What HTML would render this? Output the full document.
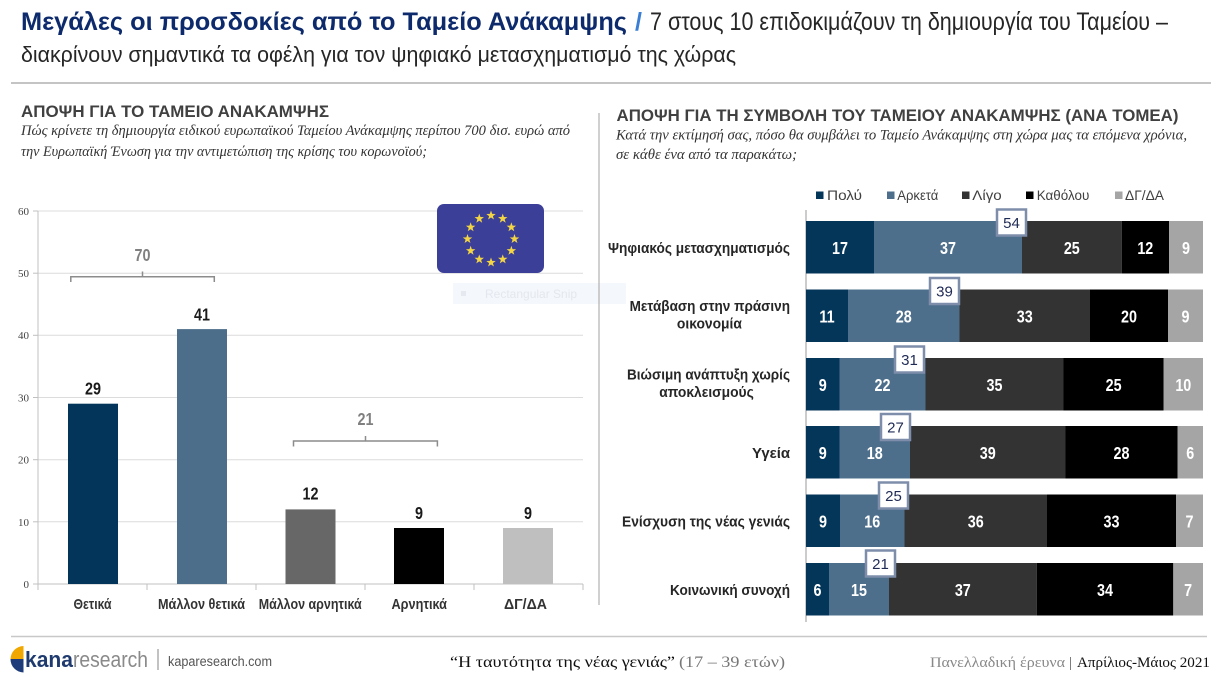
<!DOCTYPE html>
<html><head><meta charset="utf-8"><style>
html,body{margin:0;padding:0;background:#fff;}
svg{display:block;}
text{font-family:"Liberation Sans","DejaVu Sans",sans-serif;}
.sf{font-family:"Liberation Serif","DejaVu Serif",serif;}
</style></head><body>
<svg width="1218" height="677" viewBox="0 0 1218 677" xmlns="http://www.w3.org/2000/svg">
<defs>
<polygon id="st" points="0,-5 1.18,-1.61 4.75,-1.55 1.9,0.61 2.94,4.05 0,2 -2.94,4.05 -1.9,0.61 -4.75,-1.55 -1.18,-1.61" fill="#f3d544"/>
</defs>
<rect width="1218" height="677" fill="#fff"/>

<!-- Title -->
<text x="21" y="30" font-size="25" font-weight="bold" fill="#0d2b6c" textLength="606" lengthAdjust="spacingAndGlyphs">Μεγάλες οι προσδοκίες από το Ταμείο Ανάκαμψης</text>
<text x="635" y="30" font-size="25" font-weight="bold" fill="#3a7fd5">/</text>
<text x="650" y="30" font-size="25" fill="#262626" textLength="518" lengthAdjust="spacingAndGlyphs">7 στους 10 επιδοκιμάζουν τη δημιουργία του Ταμείου –</text>
<text x="21" y="62" font-size="22" fill="#262626" textLength="715" lengthAdjust="spacingAndGlyphs">διακρίνουν σημαντικά τα οφέλη για τον ψηφιακό μετασχηματισμό της χώρας</text>
<line x1="11" y1="83" x2="1211" y2="83" stroke="#c4c4c4" stroke-width="2"/>

<!-- Left headings -->
<text x="21" y="117" font-size="17" font-weight="bold" fill="#404040" textLength="308" lengthAdjust="spacingAndGlyphs">ΑΠΟΨΗ ΓΙΑ ΤΟ ΤΑΜΕΙΟ ΑΝΑΚΑΜΨΗΣ</text>
<text class="sf" x="21" y="135" font-size="14.5" font-style="italic" fill="#333" textLength="549" lengthAdjust="spacingAndGlyphs">Πώς κρίνετε τη δημιουργία ειδικού ευρωπαϊκού Ταμείου Ανάκαμψης περίπου 700 δισ. ευρώ από</text>
<text class="sf" x="21" y="156" font-size="14.5" font-style="italic" fill="#333" textLength="406" lengthAdjust="spacingAndGlyphs">την Ευρωπαϊκή Ένωση για την αντιμετώπιση της κρίσης του κορωνοϊού;</text>

<!-- Right headings -->
<text x="616.5" y="121" font-size="17" font-weight="bold" fill="#404040" textLength="562" lengthAdjust="spacingAndGlyphs">ΑΠΟΨΗ ΓΙΑ ΤΗ ΣΥΜΒΟΛΗ ΤΟΥ ΤΑΜΕΙΟΥ ΑΝΑΚΑΜΨΗΣ (ΑΝΑ ΤΟΜΕΑ)</text>
<text class="sf" x="616" y="139.5" font-size="14.5" font-style="italic" fill="#333" textLength="571" lengthAdjust="spacingAndGlyphs">Κατά την εκτίμησή σας, πόσο θα συμβάλει το Ταμείο Ανάκαμψης στη χώρα μας τα επόμενα χρόνια,</text>
<text class="sf" x="616" y="159" font-size="14.5" font-style="italic" fill="#333" textLength="181" lengthAdjust="spacingAndGlyphs">σε κάθε ένα από τα παρακάτω;</text>

<!-- separator -->
<line x1="599" y1="113" x2="599" y2="605" stroke="#b0b0b0" stroke-width="1.2"/>

<!-- Left chart grid -->
<g stroke="#dcdcdc" stroke-width="1">
<line x1="38" y1="211" x2="583" y2="211"/>
<line x1="38" y1="273.2" x2="583" y2="273.2"/>
<line x1="38" y1="335.3" x2="583" y2="335.3"/>
<line x1="38" y1="397.5" x2="583" y2="397.5"/>
<line x1="38" y1="459.7" x2="583" y2="459.7"/>
<line x1="38" y1="521.8" x2="583" y2="521.8"/>
</g>
<g stroke="#c0c0c0" stroke-width="1">
<line x1="38" y1="211" x2="38" y2="584"/>
<line x1="33" y1="584" x2="583" y2="584"/>
<line x1="33" y1="211" x2="38" y2="211"/>
<line x1="33" y1="273.2" x2="38" y2="273.2"/>
<line x1="33" y1="335.3" x2="38" y2="335.3"/>
<line x1="33" y1="397.5" x2="38" y2="397.5"/>
<line x1="33" y1="459.7" x2="38" y2="459.7"/>
<line x1="33" y1="521.8" x2="38" y2="521.8"/>
<line x1="38" y1="584" x2="38" y2="590"/>
<line x1="147" y1="584" x2="147" y2="590"/>
<line x1="256" y1="584" x2="256" y2="590"/>
<line x1="365" y1="584" x2="365" y2="590"/>
<line x1="474" y1="584" x2="474" y2="590"/>
<line x1="583" y1="584" x2="583" y2="590"/>
</g>
<g class="sf" font-size="11" fill="#444" text-anchor="end">
<text class="sf" x="29" y="215">60</text>
<text class="sf" x="29" y="277">50</text>
<text class="sf" x="29" y="339">40</text>
<text class="sf" x="29" y="401.5">30</text>
<text class="sf" x="29" y="463.5">20</text>
<text class="sf" x="29" y="526">10</text>
<text class="sf" x="29" y="588">0</text>
</g>

<!-- Left bars -->
<rect x="68" y="403.7" width="50" height="180.3" fill="#03355a"/>
<rect x="177" y="329.1" width="50" height="254.9" fill="#4d6e8b"/>
<rect x="285.5" y="509.4" width="50" height="74.6" fill="#676767"/>
<rect x="394" y="528" width="50" height="56" fill="#000"/>
<rect x="503" y="528" width="50" height="56" fill="#bfbfbf"/>

<g font-size="17.5" font-weight="bold" fill="#1a1a1a" text-anchor="middle">
<text transform="translate(93,394.5) scale(0.82,1)">29</text>
<text transform="translate(202,320.5) scale(0.82,1)">41</text>
<text transform="translate(310.5,499.5) scale(0.82,1)">12</text>
<text transform="translate(419,519) scale(0.82,1)">9</text>
<text transform="translate(528,519) scale(0.82,1)">9</text>
</g>

<g font-size="15" font-weight="bold" fill="#333">
<text x="73.5" y="609" textLength="38" lengthAdjust="spacingAndGlyphs">Θετικά</text>
<text x="158" y="609" textLength="87" lengthAdjust="spacingAndGlyphs">Μάλλον θετικά</text>
<text x="258.7" y="609" textLength="103" lengthAdjust="spacingAndGlyphs">Μάλλον αρνητικά</text>
<text x="391.5" y="609" textLength="55.5" lengthAdjust="spacingAndGlyphs">Αρνητικά</text>
<text x="504" y="609" textLength="43" lengthAdjust="spacingAndGlyphs">ΔΓ/ΔΑ</text>
</g>

<!-- Brackets -->
<g stroke="#8c8c8c" stroke-width="1.5" fill="none">
<path d="M70.8,282 V276.7 H214.3 V282 M142.5,276.7 V271.5"/>
<path d="M293.5,446.5 V441 H437.4 V446.5 M365.5,441 V436"/>
</g>
<g font-size="17.5" font-weight="bold" fill="#808080" text-anchor="middle">
<text transform="translate(142.5,261) scale(0.82,1)">70</text>
<text transform="translate(365.5,425) scale(0.82,1)">21</text>
</g>

<!-- EU flag -->
<rect x="437" y="204" width="107" height="69" rx="7" fill="#3b3f98"/>
<use href="#st" x="491" y="215.5"/>
<use href="#st" x="502.75" y="218.65"/>
<use href="#st" x="511.35" y="227.25"/>
<use href="#st" x="514.5" y="239"/>
<use href="#st" x="511.35" y="250.75"/>
<use href="#st" x="502.75" y="259.35"/>
<use href="#st" x="491" y="262.5"/>
<use href="#st" x="479.25" y="259.35"/>
<use href="#st" x="470.65" y="250.75"/>
<use href="#st" x="467.5" y="239"/>
<use href="#st" x="470.65" y="227.25"/>
<use href="#st" x="479.25" y="218.65"/>

<!-- snip overlay -->
<rect x="453" y="283" width="173" height="21" fill="#f4f7fb"/>
<rect x="461" y="291" width="5" height="5" fill="#e6eaf0"/>
<text x="485" y="298" font-size="12" fill="#e4e8ee">Rectangular Snip</text>
<line x1="599" y1="283" x2="599" y2="304" stroke="#b0b0b0" stroke-width="1.2"/>

<!-- Legend -->
<rect x="816" y="191.5" width="7.5" height="7.5" fill="#04365a"/>
<rect x="887" y="191.5" width="7.5" height="7.5" fill="#4e6f8c"/>
<rect x="962" y="191.5" width="7.5" height="7.5" fill="#333"/>
<rect x="1026" y="191.5" width="7.5" height="7.5" fill="#000"/>
<rect x="1115" y="191.5" width="7.5" height="7.5" fill="#a5a5a5"/>
<g font-size="14" fill="#404040">
<text x="827" y="200" textLength="35" lengthAdjust="spacingAndGlyphs">Πολύ</text>
<text x="897.3" y="200" textLength="41" lengthAdjust="spacingAndGlyphs">Αρκετά</text>
<text x="972.3" y="200" textLength="29.4" lengthAdjust="spacingAndGlyphs">Λίγο</text>
<text x="1036.7" y="200" textLength="52.6" lengthAdjust="spacingAndGlyphs">Καθόλου</text>
<text x="1125" y="200" textLength="39" lengthAdjust="spacingAndGlyphs">ΔΓ/ΔΑ</text>
</g>

<!-- Right chart axis -->
<line x1="806" y1="210" x2="806" y2="622" stroke="#9a9a9a" stroke-width="1"/>

<!-- Row 1 -->
<rect x="806" y="221" width="68" height="52.5" fill="#04365a"/>
<rect x="874" y="221" width="148" height="52.5" fill="#4e6f8c"/>
<rect x="1022" y="221" width="99.7" height="52.5" fill="#333"/>
<rect x="1121.7" y="221" width="47.3" height="52.5" fill="#000"/>
<rect x="1169" y="221" width="34" height="52.5" fill="#a5a5a5"/>
<!-- Row 2 -->
<rect x="806" y="289.5" width="42" height="52.5" fill="#04365a"/>
<rect x="848" y="289.5" width="111.5" height="52.5" fill="#4e6f8c"/>
<rect x="959.5" y="289.5" width="130.5" height="52.5" fill="#333"/>
<rect x="1090" y="289.5" width="78" height="52.5" fill="#000"/>
<rect x="1168" y="289.5" width="35" height="52.5" fill="#a5a5a5"/>
<!-- Row 3 -->
<rect x="806" y="358" width="33.5" height="52.5" fill="#04365a"/>
<rect x="839.5" y="358" width="86" height="52.5" fill="#4e6f8c"/>
<rect x="925.5" y="358" width="138" height="52.5" fill="#333"/>
<rect x="1063.5" y="358" width="100.2" height="52.5" fill="#000"/>
<rect x="1163.7" y="358" width="39.3" height="52.5" fill="#a5a5a5"/>
<!-- Row 4 -->
<rect x="806" y="426" width="33.5" height="52.5" fill="#04365a"/>
<rect x="839.5" y="426" width="70.5" height="52.5" fill="#4e6f8c"/>
<rect x="910" y="426" width="155.5" height="52.5" fill="#333"/>
<rect x="1065.5" y="426" width="112" height="52.5" fill="#000"/>
<rect x="1177.5" y="426" width="25.5" height="52.5" fill="#a5a5a5"/>
<!-- Row 5 -->
<rect x="806" y="494.5" width="34" height="52.5" fill="#04365a"/>
<rect x="840" y="494.5" width="64.5" height="52.5" fill="#4e6f8c"/>
<rect x="904.5" y="494.5" width="142.5" height="52.5" fill="#333"/>
<rect x="1047" y="494.5" width="129" height="52.5" fill="#000"/>
<rect x="1176" y="494.5" width="27" height="52.5" fill="#a5a5a5"/>
<!-- Row 6 -->
<rect x="806" y="563" width="23" height="52.5" fill="#04365a"/>
<rect x="829" y="563" width="60" height="52.5" fill="#4e6f8c"/>
<rect x="889" y="563" width="147.7" height="52.5" fill="#333"/>
<rect x="1036.7" y="563" width="136.6" height="52.5" fill="#000"/>
<rect x="1173.3" y="563" width="29.7" height="52.5" fill="#a5a5a5"/>

<!-- Segment labels -->
<g font-size="17.5" font-weight="bold" fill="#fff" text-anchor="middle">
<text transform="translate(840,253.8) scale(0.82,1)">17</text>
<text transform="translate(948,253.8) scale(0.82,1)">37</text>
<text transform="translate(1071.8,253.8) scale(0.82,1)">25</text>
<text transform="translate(1145.3,253.8) scale(0.82,1)">12</text>
<text transform="translate(1186,253.8) scale(0.82,1)">9</text>

<text transform="translate(827,322.3) scale(0.82,1)">11</text>
<text transform="translate(903.7,322.3) scale(0.82,1)">28</text>
<text transform="translate(1024.7,322.3) scale(0.82,1)">33</text>
<text transform="translate(1129,322.3) scale(0.82,1)">20</text>
<text transform="translate(1185.5,322.3) scale(0.82,1)">9</text>

<text transform="translate(822.7,390.8) scale(0.82,1)">9</text>
<text transform="translate(882.5,390.8) scale(0.82,1)">22</text>
<text transform="translate(994.5,390.8) scale(0.82,1)">35</text>
<text transform="translate(1113.6,390.8) scale(0.82,1)">25</text>
<text transform="translate(1183.3,390.8) scale(0.82,1)">10</text>

<text transform="translate(822.7,458.8) scale(0.82,1)">9</text>
<text transform="translate(874.7,458.8) scale(0.82,1)">18</text>
<text transform="translate(987.7,458.8) scale(0.82,1)">39</text>
<text transform="translate(1121.5,458.8) scale(0.82,1)">28</text>
<text transform="translate(1190.2,458.8) scale(0.82,1)">6</text>

<text transform="translate(823,527.3) scale(0.82,1)">9</text>
<text transform="translate(872.2,527.3) scale(0.82,1)">16</text>
<text transform="translate(975.7,527.3) scale(0.82,1)">36</text>
<text transform="translate(1111.5,527.3) scale(0.82,1)">33</text>
<text transform="translate(1189.5,527.3) scale(0.82,1)">7</text>

<text transform="translate(817.5,595.8) scale(0.82,1)">6</text>
<text transform="translate(859,595.8) scale(0.82,1)">15</text>
<text transform="translate(962.8,595.8) scale(0.82,1)">37</text>
<text transform="translate(1105,595.8) scale(0.82,1)">34</text>
<text transform="translate(1188.1,595.8) scale(0.82,1)">7</text>
</g>

<!-- Callout boxes -->
<g fill="#fff" stroke="#7d8daa" stroke-width="2.5">
<rect x="997" y="209.5" width="29" height="26"/>
<rect x="930" y="278" width="29" height="26"/>
<rect x="895" y="346.5" width="29" height="26"/>
<rect x="881" y="414" width="29" height="26"/>
<rect x="879" y="482.5" width="29" height="26"/>
<rect x="866" y="550.5" width="29" height="26"/>
</g>
<g font-size="15" fill="#1f2a55" text-anchor="middle">
<text x="1011.5" y="228">54</text>
<text x="944.5" y="296.5">39</text>
<text x="909.5" y="365">31</text>
<text x="895.5" y="432.5">27</text>
<text x="893.5" y="501">25</text>
<text x="880.5" y="569">21</text>
</g>

<!-- Right category labels -->
<g font-size="15" font-weight="bold" fill="#262626">
<text x="790" y="253" text-anchor="end" textLength="182" lengthAdjust="spacingAndGlyphs">Ψηφιακός μετασχηματισμός</text>
<text x="790" y="311" text-anchor="end" textLength="160.4" lengthAdjust="spacingAndGlyphs">Μετάβαση στην πράσινη</text>
<text x="709.4" y="328.3" text-anchor="middle" textLength="65" lengthAdjust="spacingAndGlyphs">οικονομία</text>
<text x="790" y="379.5" text-anchor="end" textLength="163" lengthAdjust="spacingAndGlyphs">Βιώσιμη ανάπτυξη χωρίς</text>
<text x="706.5" y="396.8" text-anchor="middle" textLength="94.6" lengthAdjust="spacingAndGlyphs">αποκλεισμούς</text>
<text x="790" y="458" text-anchor="end" textLength="38" lengthAdjust="spacingAndGlyphs">Υγεία</text>
<text x="790" y="526.5" text-anchor="end" textLength="168" lengthAdjust="spacingAndGlyphs">Ενίσχυση της νέας γενιάς</text>
<text x="790" y="595" text-anchor="end" textLength="120" lengthAdjust="spacingAndGlyphs">Κοινωνική συνοχή</text>
</g>

<!-- Footer -->
<line x1="11" y1="636.5" x2="1207" y2="636.5" stroke="#c8c8c8" stroke-width="1.5"/>
<path d="M23.5,646 A13.3,13.3 0 0 0 10.5,659 L23.5,659 Z" fill="#f0a800"/>
<path d="M10.5,659 A13.3,13.3 0 0 0 23.5,672.5 L23.5,659 Z" fill="#1e3c7a"/>
<text x="25" y="667" font-size="22" font-weight="bold" fill="#1f3a6e" textLength="48" lengthAdjust="spacingAndGlyphs">kana</text>
<text x="73" y="667" font-size="22" fill="#8a8a8a" textLength="75" lengthAdjust="spacingAndGlyphs">research</text>
<line x1="158" y1="649" x2="158" y2="670" stroke="#9a9a9a" stroke-width="1.2"/>
<text x="168" y="666" font-size="13.5" fill="#555" textLength="104" lengthAdjust="spacingAndGlyphs">kaparesearch.com</text>

<text class="sf" x="450" y="667" font-size="16" fill="#111" textLength="225" lengthAdjust="spacingAndGlyphs">“Η ταυτότητα της νέας γενιάς”</text>
<text class="sf" x="679" y="667" font-size="16" fill="#777" textLength="106" lengthAdjust="spacingAndGlyphs">(17 – 39 ετών)</text>

<text class="sf" x="930" y="667" font-size="15" fill="#888" textLength="135" lengthAdjust="spacingAndGlyphs">Πανελλαδική έρευνα</text>
<text class="sf" x="1069" y="667" font-size="15" fill="#555">|</text>
<text class="sf" x="1077" y="667" font-size="15" fill="#111" textLength="133" lengthAdjust="spacingAndGlyphs">Απρίλιος-Μάιος 2021</text>
</svg>
</body></html>
